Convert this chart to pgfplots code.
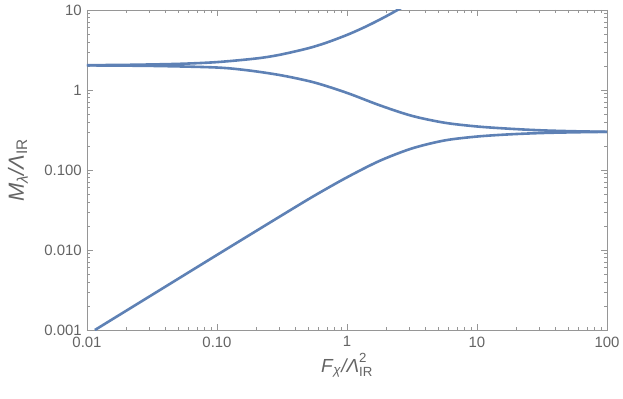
\documentclass[border=0pt]{standalone}
\usepackage{fontspec}
\setmainfont{Liberation Sans}
\usepackage{pgfplots}
\pgfplotsset{compat=1.18}
\definecolor{mblue}{rgb}{0.368417,0.506779,0.709798}
\definecolor{tickgray}{RGB}{100,100,100}
\definecolor{framegray}{RGB}{150,150,150}
\begin{document}
\begin{tikzpicture}
\begin{axis}[
  at={(0,0)}, anchor=south west,
  scale only axis, width=520bp, height=320bp,
  xmode=log, ymode=log,
  xmin=0.01, xmax=100, ymin=0.001, ymax=10,
  xtick={0.01,0.1,1,10,100}, xticklabels={0.01,0.10,1,10,100},
  ytick={0.001,0.01,0.1,1,10}, yticklabels={0.001,0.010,0.100,1,10},
  minor xtick={0.02,0.03,0.04,0.05,0.06,0.07,0.08,0.09,0.2,0.3,0.4,0.5,0.6,0.7,0.8,0.9,2,3,4,5,6,7,8,9,20,30,40,50,60,70,80,90},
  minor ytick={0.002,0.003,0.004,0.005,0.006,0.007,0.008,0.009,0.02,0.03,0.04,0.05,0.06,0.07,0.08,0.09,0.2,0.3,0.4,0.5,0.6,0.7,0.8,0.9,2,3,4,5,6,7,8,9},
  tick align=inside, major tick length=6bp, minor tick length=3.5bp,
  axis line style={framegray, line width=0.8bp},
  every tick/.style={framegray, line width=0.6bp},
  tick label style={tickgray, font=\fontsize{15}{18}\selectfont, inner sep=0.5bp},
  xticklabel style={yshift=-6bp},
  yticklabel style={xshift=-4.5bp},
  /pgf/number format/assume math mode=true,
  xlabel={\textit{F}\textsubscript{\textit{χ}}\textit{/Λ}\rlap{\raisebox{0.35ex}{\textsuperscript{2}}}\raisebox{-0.15ex}{\textsubscript{IR}}},
  ylabel={\textit{M}\textsubscript{\textit{λ}}\textit{/Λ}\textsubscript{IR}},
  xlabel style={tickgray, font=\fontsize{19}{23}\selectfont, at={(axis description cs:0.5,-0.11)}, anchor=center},
  ylabel style={tickgray, font=\fontsize{22}{26}\selectfont, at={(axis description cs:-0.133,0.5)}, anchor=center},
]
\addplot[mblue, line width=2.6bp, smooth] coordinates {
(0.01,2.044) (0.02,2.062) (0.05,2.121) (0.1,2.232) (0.2,2.477) (0.3,2.744)
(0.5,3.315) (0.7,3.922) (1,4.88) (1.3,5.88) (1.6,6.92) (2.0,8.35) (2.43,9.94) (2.8,11.34)
};
\addplot[mblue, line width=2.6bp, smooth] coordinates {
(0.01,2.03) (0.0316,2.0) (0.1,1.91) (0.178,1.75) (0.316,1.52) (0.562,1.24)
(1.0,0.92) (1.78,0.645) (3.16,0.475) (5.62,0.39) (10,0.35) (17.8,0.328)
(31.6,0.313) (56.2,0.305) (100,0.30)
};
\addplot[mblue, line width=2.6bp, smooth] coordinates {
(0.0115,0.001) (0.0316,0.002745) (0.1,0.00868) (0.316,0.0272) (0.562,0.0478)
(1.0,0.081) (1.78,0.130) (3.16,0.186) (5.62,0.234) (10,0.262) (17.8,0.279)
(31.6,0.29) (56.2,0.296) (100,0.30)
};
\end{axis}
\pgfresetboundingbox
\path (-87bp,-69bp) rectangle (536bp,330bp);
\end{tikzpicture}
\end{document}
